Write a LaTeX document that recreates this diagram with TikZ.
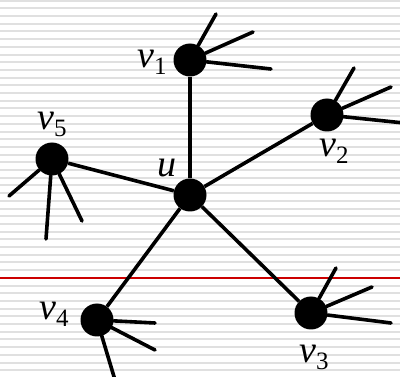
\documentclass[tikz,border=0pt]{standalone}
\usepackage{fontspec}
\setmainfont{Liberation Serif}
\usepackage{xcolor}
\usepackage{tikz}
\usetikzlibrary{positioning}

\definecolor{stripe}{RGB}{224,224,224}
\definecolor{marginred}{RGB}{204,0,0}
\newcommand{\vname}[1]{\textit{v}\raisebox{-7pt}{\fontsize{25}{25}\selectfont #1}}

\begin{document}
\begin{tikzpicture}[x=1pt, y=-1pt,
  vert/.style={circle, fill=black, inner sep=0pt, minimum size=33pt},
  edge/.style={line width=3.6pt},
  stub/.style={line width=3.6pt, line cap=round},
  lbl/.style={anchor=base west, inner sep=0pt, font=\fontsize{38}{38}\selectfont}]
  % lined paper
  \useasboundingbox (0,0) rectangle (400,377);
  \fill[white] (0,0) rectangle (400,377);
  \foreach \k in {0,...,48}
    \draw[stripe, line width=2pt] (0,0.7+7.7*\k) -- (400,0.7+7.7*\k);
  \draw[marginred, line width=1.5pt] (0,277.9) -- (400,277.9);

  % vertices
  \node[vert] (u) at (190,195) {};
  \node[vert] (v1) at (190,60) {};
  \node[vert] (v2) at (327,115) {};
  \node[vert] (v3) at (311,313) {};
  \node[vert] (v4) at (97,320) {};
  \node[vert] (v5) at (52,159) {};

  % labels
  \node[lbl] (lu) at (157,177) {\textit{u}};
  \node[lbl] (l1) at (137,68) {\vname{1}};
  \node[lbl] (l2) at (319,157) {\vname{2}};
  \node[lbl] (l3) at (299,363) {\vname{3}};
  \node[lbl] (l4) at (39,320) {\vname{4}};
  \node[lbl] (l5) at (37,130) {\vname{5}};

  % loose ends
  \coordinate (v1a) at (216,14);
  \coordinate (v1b) at (253,32);
  \coordinate (v1c) at (271,69);
  \coordinate (v2a) at (354,68);
  \coordinate (v2b) at (391,87);
  \coordinate (v2c) at (404,123);
  \coordinate (v3a) at (336,268);
  \coordinate (v3b) at (372,287);
  \coordinate (v3c) at (391,323);
  \coordinate (v4a) at (155,323);
  \coordinate (v4b) at (155,350);
  \coordinate (v4c) at (115,380);
  \coordinate (v5a) at (9,196);
  \coordinate (v5b) at (46,239);
  \coordinate (v5c) at (82,221);

  \foreach \v in {v1,v2,v3,v4,v5}
    \draw[edge] (u) -- (\v);
  \foreach \v in {v1,v2,v3,v4,v5}
    \foreach \s in {a,b,c}
      \draw[stub] (\v) -- (\v\s);
\end{tikzpicture}
\end{document}
